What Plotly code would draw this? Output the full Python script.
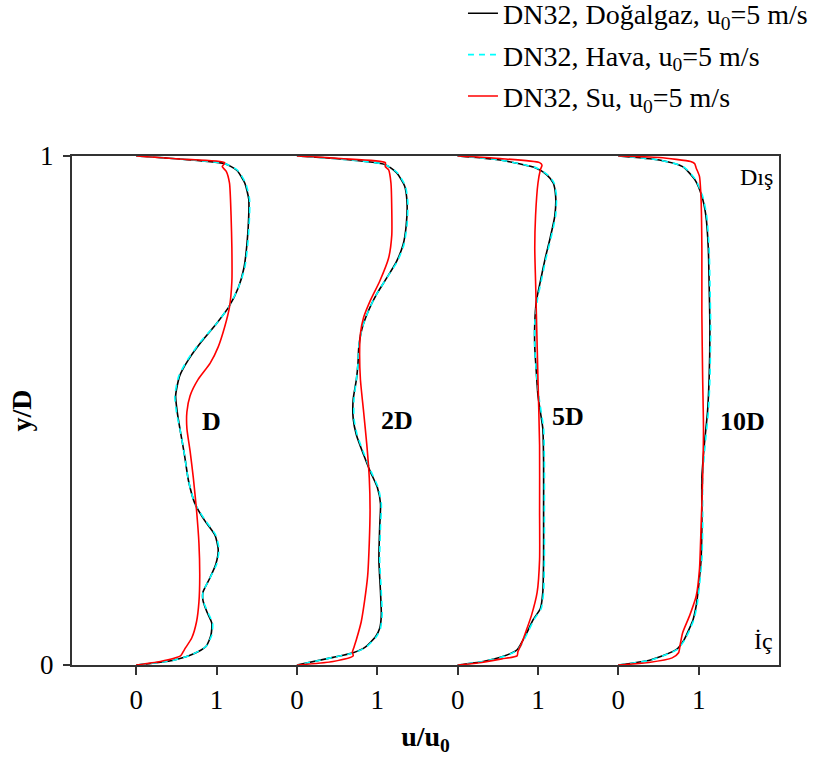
import plotly.graph_objects as go

# ---------------- data (u/u0 vs y/D at four stations) ----------------
station_names = ["D", "2D", "5D", "10D"]
station_offsets = [0, 2, 4, 6]   # each profile is drawn shifted by 2 units
xtick_vals = [0, 1, 2, 3, 4, 5, 6, 7]
xtick_text = ["0", "1", "0", "1", "0", "1", "0", "1"]

# --- DN32, Doğalgaz (natural gas) ---
y_D_ng = [1.0, 0.994, 0.985, 0.972, 0.947, 0.915, 0.883, 0.831, 0.780, 0.741, 0.703, 0.671, 0.635, 0.600, 0.568, 0.529, 0.497, 0.458, 0.413, 0.362, 0.317, 0.284, 0.255, 0.227, 0.198, 0.169, 0.143, 0.127, 0.104, 0.082, 0.059, 0.037, 0.021, 0.009, 0.0]
u_D_ng = [0.0, 0.54, 1.10, 1.25, 1.35, 1.40, 1.40, 1.38, 1.34, 1.27, 1.15, 1.00, 0.81, 0.65, 0.54, 0.49, 0.51, 0.55, 0.60, 0.65, 0.73, 0.85, 0.98, 1.02, 0.99, 0.91, 0.83, 0.83, 0.88, 0.94, 0.93, 0.87, 0.70, 0.45, 0.0]
y_2D_ng = [1.0, 0.994, 0.983, 0.967, 0.941, 0.909, 0.864, 0.825, 0.793, 0.761, 0.728, 0.696, 0.661, 0.625, 0.593, 0.561, 0.522, 0.484, 0.452, 0.413, 0.381, 0.349, 0.317, 0.272, 0.207, 0.143, 0.098, 0.072, 0.056, 0.035, 0.024, 0.015, 0.0]
u_2D_ng = [0.0, 0.54, 1.10, 1.24, 1.34, 1.37, 1.36, 1.32, 1.24, 1.12, 0.99, 0.89, 0.81, 0.77, 0.76, 0.74, 0.70, 0.70, 0.74, 0.83, 0.91, 1.00, 1.04, 1.03, 1.02, 1.04, 1.05, 1.03, 0.98, 0.85, 0.70, 0.45, 0.0]
y_5D_ng = [1.0, 0.992, 0.976, 0.963, 0.947, 0.921, 0.883, 0.838, 0.799, 0.754, 0.715, 0.670, 0.625, 0.574, 0.529, 0.497, 0.465, 0.400, 0.304, 0.207, 0.143, 0.111, 0.089, 0.063, 0.030, 0.017, 0.007, 0.0]
u_5D_ng = [0.0, 0.53, 0.98, 1.11, 1.19, 1.22, 1.21, 1.15, 1.09, 1.03, 0.98, 0.96, 0.96, 0.98, 1.00, 1.03, 1.06, 1.07, 1.07, 1.07, 1.06, 1.03, 0.94, 0.86, 0.74, 0.57, 0.32, 0.0]
y_10D_ng = [1.0, 0.992, 0.979, 0.954, 0.921, 0.883, 0.819, 0.754, 0.658, 0.561, 0.497, 0.432, 0.368, 0.272, 0.207, 0.156, 0.117, 0.089, 0.070, 0.050, 0.030, 0.010, 0.0]
u_10D_ng = [0.0, 0.51, 0.80, 0.95, 1.04, 1.09, 1.12, 1.13, 1.14, 1.13, 1.11, 1.07, 1.04, 1.04, 1.03, 1.00, 0.97, 0.93, 0.88, 0.82, 0.72, 0.40, 0.0]

# --- DN32, Hava (air) ---
y_D_air = [1.0, 0.994, 0.985, 0.972, 0.947, 0.915, 0.883, 0.831, 0.780, 0.741, 0.703, 0.671, 0.635, 0.600, 0.568, 0.529, 0.497, 0.458, 0.413, 0.362, 0.317, 0.284, 0.255, 0.227, 0.198, 0.169, 0.143, 0.127, 0.104, 0.082, 0.059, 0.037, 0.021, 0.009, 0.0]
u_D_air = [0.0, 0.54, 1.10, 1.26, 1.36, 1.41, 1.41, 1.39, 1.35, 1.27, 1.15, 1.00, 0.80, 0.64, 0.53, 0.48, 0.50, 0.55, 0.60, 0.65, 0.73, 0.86, 0.99, 1.03, 1.00, 0.91, 0.83, 0.83, 0.89, 0.95, 0.94, 0.87, 0.70, 0.45, 0.0]
y_2D_air = [1.0, 0.994, 0.983, 0.967, 0.941, 0.909, 0.864, 0.825, 0.793, 0.761, 0.728, 0.696, 0.661, 0.625, 0.593, 0.561, 0.522, 0.484, 0.452, 0.413, 0.381, 0.349, 0.317, 0.272, 0.207, 0.143, 0.098, 0.072, 0.056, 0.035, 0.024, 0.015, 0.0]
u_2D_air = [0.0, 0.54, 1.10, 1.25, 1.35, 1.38, 1.37, 1.33, 1.25, 1.12, 0.99, 0.89, 0.81, 0.77, 0.76, 0.74, 0.71, 0.71, 0.75, 0.84, 0.92, 1.01, 1.05, 1.04, 1.03, 1.05, 1.06, 1.04, 0.99, 0.86, 0.71, 0.45, 0.0]
y_5D_air = [1.0, 0.992, 0.976, 0.963, 0.947, 0.921, 0.883, 0.838, 0.799, 0.754, 0.715, 0.670, 0.625, 0.574, 0.529, 0.497, 0.465, 0.400, 0.304, 0.207, 0.143, 0.111, 0.089, 0.063, 0.030, 0.017, 0.007, 0.0]
u_5D_air = [0.0, 0.53, 0.99, 1.12, 1.20, 1.23, 1.22, 1.16, 1.10, 1.04, 0.99, 0.96, 0.96, 0.98, 1.01, 1.04, 1.07, 1.08, 1.08, 1.08, 1.07, 1.04, 0.95, 0.87, 0.75, 0.58, 0.32, 0.0]
y_10D_air = [1.0, 0.992, 0.979, 0.954, 0.921, 0.883, 0.819, 0.754, 0.658, 0.561, 0.497, 0.432, 0.368, 0.272, 0.207, 0.156, 0.117, 0.089, 0.070, 0.050, 0.030, 0.010, 0.0]
u_10D_air = [0.0, 0.51, 0.81, 0.96, 1.05, 1.10, 1.13, 1.14, 1.15, 1.14, 1.12, 1.08, 1.05, 1.05, 1.04, 1.01, 0.98, 0.94, 0.89, 0.83, 0.73, 0.41, 0.0]

# --- DN32, Su (water) ---
y_D_su = [1.0, 0.994, 0.987, 0.979, 0.970, 0.947, 0.883, 0.819, 0.754, 0.703, 0.664, 0.625, 0.593, 0.561, 0.529, 0.497, 0.465, 0.420, 0.368, 0.304, 0.239, 0.175, 0.124, 0.085, 0.053, 0.033, 0.025, 0.018, 0.007, 0.0]
u_D_su = [0.0, 0.54, 1.10, 1.07, 1.12, 1.16, 1.18, 1.19, 1.19, 1.16, 1.10, 1.02, 0.92, 0.77, 0.67, 0.63, 0.63, 0.67, 0.71, 0.75, 0.78, 0.79, 0.78, 0.75, 0.69, 0.61, 0.58, 0.55, 0.30, 0.0]
y_2D_su = [1.0, 0.995, 0.987, 0.979, 0.973, 0.947, 0.896, 0.844, 0.799, 0.754, 0.715, 0.683, 0.651, 0.613, 0.561, 0.497, 0.432, 0.368, 0.304, 0.239, 0.175, 0.124, 0.085, 0.050, 0.035, 0.025, 0.018, 0.007, 0.0]
u_2D_su = [0.0, 0.54, 1.10, 1.10, 1.14, 1.17, 1.18, 1.18, 1.14, 1.03, 0.91, 0.83, 0.79, 0.78, 0.79, 0.83, 0.87, 0.90, 0.91, 0.90, 0.88, 0.84, 0.80, 0.74, 0.71, 0.69, 0.70, 0.45, 0.0]
y_5D_su = [1.0, 0.995, 0.987, 0.982, 0.973, 0.947, 0.883, 0.819, 0.754, 0.690, 0.561, 0.432, 0.304, 0.207, 0.143, 0.098, 0.066, 0.040, 0.026, 0.018, 0.012, 0.005, 0.0]
u_5D_su = [0.0, 0.53, 1.02, 1.05, 1.03, 1.00, 0.97, 0.96, 0.97, 0.98, 1.00, 1.02, 1.02, 1.02, 0.99, 0.92, 0.85, 0.79, 0.75, 0.74, 0.55, 0.30, 0.0]
y_10D_su = [1.0, 0.997, 0.989, 0.985, 0.976, 0.960, 0.915, 0.819, 0.690, 0.561, 0.465, 0.368, 0.272, 0.188, 0.136, 0.098, 0.063, 0.040, 0.024, 0.014, 0.005, 0.0]
u_10D_su = [0.0, 0.51, 0.90, 0.95, 0.97, 1.01, 1.03, 1.04, 1.04, 1.05, 1.06, 1.05, 1.03, 1.01, 0.97, 0.89, 0.80, 0.77, 0.75, 0.67, 0.38, 0.0]

series_names = ["DN32, Doğalgaz, u<sub>0</sub>=5 m/s",
                "DN32, Hava, u<sub>0</sub>=5 m/s",
                "DN32, Su, u<sub>0</sub>=5 m/s"]
series_u = [[u_D_ng, u_2D_ng, u_5D_ng, u_10D_ng],
            [u_D_air, u_2D_air, u_5D_air, u_10D_air],
            [u_D_su, u_2D_su, u_5D_su, u_10D_su]]
series_y = [[y_D_ng, y_2D_ng, y_5D_ng, y_10D_ng],
            [y_D_air, y_2D_air, y_5D_air, y_10D_air],
            [y_D_su, y_2D_su, y_5D_su, y_10D_su]]
series_colors = ["#000000", "#00FFFF", "#FF0000"]
series_dash = ["solid", "6px,5px", "solid"]

FONT = "Liberation Serif, Times New Roman, serif"

fig = go.Figure()
for name, us, ys, col, dash in zip(series_names, series_u, series_y, series_colors, series_dash):
    xs, yy = [], []
    for off, u, y in zip(station_offsets, us, ys):
        xs += [off + v for v in u] + [None]
        yy += list(y) + [None]
    fig.add_trace(go.Scatter(x=xs, y=yy, mode="lines", name=name,
                             line=dict(color=col, width=1.6, dash=dash,
                                       shape="spline", smoothing=0.6),
                             connectgaps=False, legendgroup=name))

annotations = []
label_pos = [(0.94, 0.478), (3.25, 0.481), (5.37, 0.488), (7.55, 0.478)]
for txt, (ax, ay) in zip(station_names, label_pos):
    annotations.append(dict(x=ax, y=ay, xref="x", yref="y", text="<b>%s</b>" % txt,
                            showarrow=False, font=dict(family=FONT, size=26, color="black")))
annotations.append(dict(x=7.72, y=0.959, xref="x", yref="y", text="Dış", showarrow=False,
                        font=dict(family=FONT, size=24, color="black")))
annotations.append(dict(x=7.81, y=0.048, xref="x", yref="y", text="İç", showarrow=False,
                        font=dict(family=FONT, size=24, color="black")))

axis_col = "#333333"
fig.update_layout(
    width=816, height=765,
    margin=dict(l=72, r=37, t=156, b=100, autoexpand=False),
    paper_bgcolor="white", plot_bgcolor="white",
    font=dict(family=FONT, color="black"),
    showlegend=True,
    legend=dict(x=0.553, y=1.329, xanchor="left", yanchor="top",
                font=dict(family=FONT, size=28, color="black"),
                bgcolor="rgba(0,0,0,0)", traceorder="grouped", tracegroupgap=2),
    xaxis=dict(range=[-0.8, 8], tickvals=xtick_vals, ticktext=xtick_text,
               ticks="outside", ticklen=8, tickwidth=1.5, tickcolor=axis_col,
               showline=True, linecolor=axis_col, linewidth=2, mirror=True,
               showgrid=False, zeroline=False,
               tickfont=dict(family=FONT, size=27, color="black"),
               ticklabelstandoff=2,
               title=dict(text="<b>u/u<sub>0</sub></b>", standoff=12,
                          font=dict(family=FONT, size=28, color="black"))),
    yaxis=dict(range=[0, 1], tickvals=[0, 1], ticktext=["0", "1"],
               ticks="outside", ticklen=7, tickwidth=1.5, tickcolor=axis_col,
               showline=True, linecolor=axis_col, linewidth=2, mirror=True,
               showgrid=False, zeroline=False,
               tickfont=dict(family=FONT, size=27, color="black"),
               ticklabelstandoff=4,
               title=dict(text="<b>y/D</b>", standoff=0,
                          font=dict(family=FONT, size=28, color="black"))),
    annotations=annotations,
)

fig.write_html("out.html")
